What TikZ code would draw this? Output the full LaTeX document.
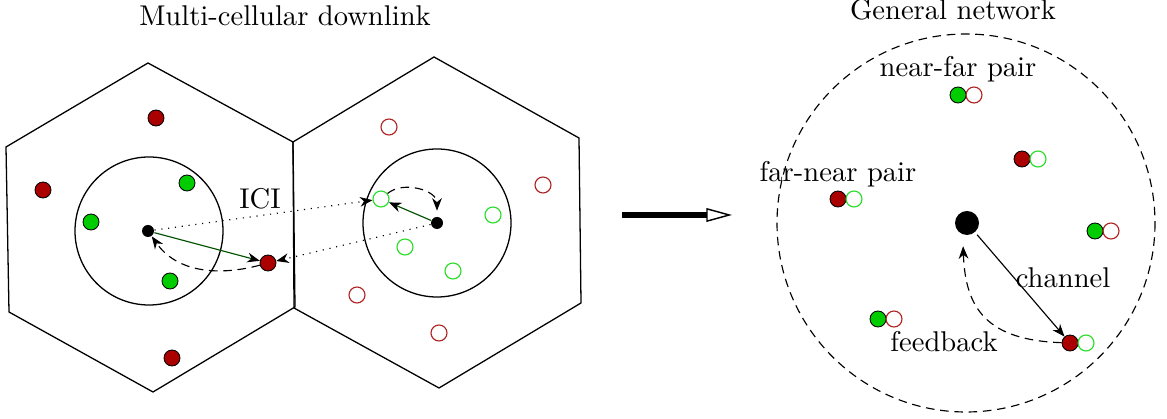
\documentclass[tikz,border=0pt]{standalone}
\usetikzlibrary{arrows.meta}
\definecolor{farred}{RGB}{170,0,0}
\definecolor{neargreen}{RGB}{0,204,0}
\definecolor{openred}{RGB}{175,35,35}
\definecolor{opengreen}{RGB}{40,220,40}
\definecolor{linkgreen}{RGB}{0,80,0}

\begin{document}
\begin{tikzpicture}[
  x=0.35pt, y=-0.35pt,
  bs/.style={circle, fill=black, inner sep=0pt, minimum size=4.2pt},
  bigbs/.style={circle, fill=black, inner sep=0pt, minimum size=8.4pt},
  farfull/.style={circle, draw=black, fill=farred, inner sep=0pt, minimum size=5.6pt, line width=0.3pt},
  nearfull/.style={farfull, fill=neargreen},
  faropen/.style={circle, draw=openred, inner sep=0pt, minimum size=5.6pt, line width=0.4pt},
  nearopen/.style={faropen, draw=opengreen},
  lbl/.style={anchor=base, inner sep=0pt},
  tip/.style={-{Stealth[length=4.4pt, width=3.4pt, inset=1.4pt, color=black]}},
  link/.style={tip, draw=linkgreen, line width=0.4pt},
  cross/.style={tip, dotted},
  fb/.style={tip, dash pattern=on 3pt off 2pt},
  cell/.style={line width=0.45pt}
]
\useasboundingbox (0,0) rectangle (1167,419);

% titles
\node[lbl] (ttlleft) at (285,26) {Multi-cellular downlink};
\node[lbl] (ttlright) at (953,20) {General network};

% two hexagonal cells
\draw[cell] (148,63) -- (293,142) -- (295,307) -- (153,392) -- (9,312) -- (6,147) -- cycle;
\draw[cell] (434,57) -- (579,138) -- (581,303) -- (439,388) -- (294,308) -- (293,142) -- cycle;
\draw[cell] (149,231) circle[radius=74];
\draw[cell] (437,223) circle[radius=74];

% left cell
\node[bs] (bsa) at (148,231) {};
\node[farfull] (fa1) at (156,118) {};
\node[farfull] (fa2) at (43,190) {};
\node[farfull] (fa3) at (172,358) {};
\node[farfull] (edge) at (268,263) {};
\node[nearfull] (na1) at (187,183) {};
\node[nearfull] (na2) at (91,222) {};
\node[nearfull] (na3) at (170,281) {};

% right cell
\node[bs] (bsb) at (437,223) {};
\node[faropen] (fb1) at (389,127) {};
\node[faropen] (fb2) at (543,185) {};
\node[faropen] (fb3) at (357,295) {};
\node[faropen] (fb4) at (439,333) {};
\node[nearopen] (target) at (381,199) {};
\node[nearopen] (nb2) at (493,215) {};
\node[nearopen] (nb3) at (405,247) {};
\node[nearopen] (nb4) at (453,271) {};

% links and interference
\draw[link] (bsa) -- (edge);
\draw[link] (bsb) -- (target);
\draw[cross] (bsa) -- (target);
\draw[cross] (bsb) -- (edge);
\draw[fb] (edge) to[out=195, in=-55] (bsa);
\draw[fb] (target) to[out=40, in=90] ([yshift=2pt]bsb.north);
\node[lbl] (ici) at (260,209) {ICI};

% big arrow
\coordinate (gofrom) at (622,215);
\coordinate (goto) at (732,215);
\draw[line width=2.1pt, -{Triangle[open, length=9pt, width=4.8pt, line width=0.5pt]}] (gofrom) -- (goto);

% general network
\draw[dash pattern=on 3pt off 2pt] (966,223) circle[radius=189];
\node[bigbs] (bsn) at (967,223) {};
\node[nearfull] (p1a) at (958,95) {};
\node[faropen] (p1b) at (974,95) {};
\node[farfull] (p2a) at (1022,159) {};
\node[nearopen] (p2b) at (1038,159) {};
\node[farfull] (p3a) at (838,199) {};
\node[nearopen] (p3b) at (854,199) {};
\node[nearfull] (p4a) at (1095,231) {};
\node[faropen] (p4b) at (1111,231) {};
\node[nearfull] (p5a) at (878,319) {};
\node[faropen] (p5b) at (894,319) {};
\node[farfull] (p6a) at (1070,343) {};
\node[nearopen] (p6b) at (1086,343) {};
\node[lbl] (nfp) at (958,77) {near-far pair};
\node[lbl] (fnp) at (838,182) {far-near pair};
\draw[tip, shorten <=1pt] (bsn) -- (p6a);
\draw[fb, shorten >=4pt] (p6a) to[out=178, in=-88, looseness=1.3] (bsn.250);
\node[lbl] (chn) at (1063,288) {channel};
\node[lbl] (fdb) at (944,352) {feedback};
\end{tikzpicture}
\end{document}
